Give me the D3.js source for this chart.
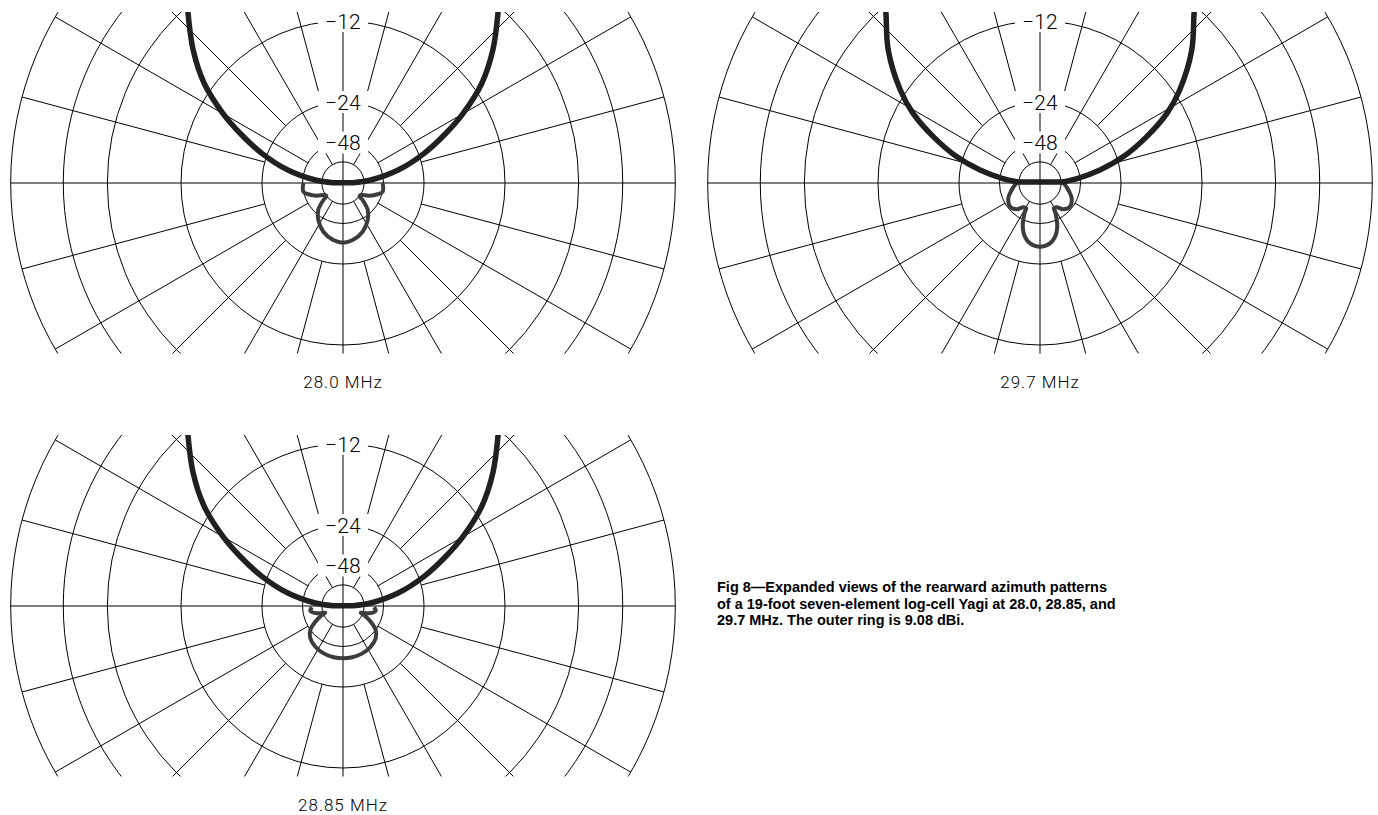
<!DOCTYPE html>
<html><head><meta charset="utf-8">
<script src="https://cdn.jsdelivr.net/npm/d3@7"></script>
<style>
html,body{margin:0;padding:0;background:#fff;}
svg{display:block;}
</style></head><body>
<svg id="chart" width="1378" height="815"></svg>
<script>
// ================= DATA =================
// Grid ring levels (dB) on the expanded reciprocal scale
const ringLevels = [-5.85, -6.95, -8.25, -12, -24, -48, -92];
const labeledLevels = [-12, -24, -48];
const ringLabels = ["\u221212", "\u221224", "\u221248"];
// spoke azimuths (degrees) grouped by the ring they start from
const spokesFromCenter = [0, 90, 180, 270];
const spokesFromInner = [30, 150, 210, 330];
const spokesFromMid = [60, 120, 240, 300];
const spokesFromOuter = [15, 45, 75, 105, 135, 165, 195, 225, 255, 285, 315, 345];

const panelTitles = ["28.0 MHz", "29.7 MHz", "28.85 MHz"];

// Main (forward) lobe: azimuth (deg) and level (dB)
const main280Az = [-88.3, -83.8, -76.75, -69.9, -64.2, -59.9, -54.3, -48.4, -42.4, -38, -30, -15, 0, 15, 30, 38, 42.4, 48.4, 54.3, 59.9, 64.2, 69.9, 76.75, 83.8, 88.3];
const main280Db = [-194, -69.8, -34.3, -22.5, -17.0, -14.0, -11.37, -9.70, -8.46, -7.65, -6.82, -6.27, -6.11, -6.27, -6.82, -7.65, -8.46, -9.70, -11.37, -14.0, -17.0, -22.5, -34.3, -69.8, -194];
const main297Az = [-87.4, -82.95, -77.8, -72.5, -66.5, -61.2, -56.4, -48.8, -42.5, -38, -30, -15, 0, 15, 30, 38, 42.5, 48.8, 56.4, 61.2, 66.5, 72.5, 77.8, 82.95, 87.4];
const main297Db = [-88.3, -50.8, -31.7, -22.3, -16.7, -13.4, -11.6, -9.64, -8.53, -7.7, -6.9, -6.35, -6.2, -6.35, -6.9, -7.7, -8.53, -9.64, -11.6, -13.4, -16.7, -22.3, -31.7, -50.8, -88.3];
const main2885Az = [-88.3, -83.8, -76.75, -69.9, -64.2, -59.9, -54.3, -48.4, -42.4, -38, -30, -15, 0, 15, 30, 38, 42.4, 48.4, 54.3, 59.9, 64.2, 69.9, 76.75, 83.8, 88.3];
const main2885Db = [-194, -69.8, -34.3, -22.5, -17.0, -14.0, -11.37, -9.70, -8.46, -7.65, -6.82, -6.27, -6.11, -6.27, -6.82, -7.65, -8.46, -9.70, -11.37, -14.0, -17.0, -22.5, -34.3, -69.8, -194];

// Rear lobes: azimuth (deg) and level (dB)
const rear280Az = [270, 257.6, 252, 244.2, 236.3, 231, 229, 222.5, 213.7, 202, 189.7, 180, 170.3, 158, 146.3, 137.5, 131, 129, 123.7, 115.8, 108, 102.4, 90];
const rear280Db = [-49.0, -47.9, -53.3, -66.6, -90, -91.3, -75, -53.1, -43.7, -37.0, -33.6, -32.6, -33.6, -37.0, -43.7, -53.1, -75, -91.3, -90, -66.6, -53.3, -47.9, -49.0];
const rear297Az = [269.3, 256.1, 244.2, 231.7, 221.5, 214.5, 209, 207.5, 201.6, 195.6, 189.4, 180, 170.6, 164.4, 158.4, 152.5, 151, 145.5, 138.5, 128.3, 115.8, 103.9, 90.7];
const rear297Db = [-81, -66.6, -55.2, -50.9, -55.4, -65.9, -68, -58.9, -41.4, -34.8, -31.8, -30.5, -31.8, -34.8, -41.4, -58.9, -68, -65.9, -55.4, -50.9, -55.2, -66.6, -81];
const rear2885Az = [267.6, 261.8, 254.3, 249.3, 246.8, 240.5, 233.7, 225.4, 214.2, 202.2, 190.3, 180, 169.7, 157.8, 145.8, 134.6, 126.3, 119.5, 113.2, 110.7, 105.7, 98.2, 92.4];
const rear2885Db = [-62.7, -58.9, -72, -102.9, -85.3, -61.1, -47.9, -42.3, -39.5, -38, -37.3, -37.2, -37.3, -38, -39.5, -42.3, -47.9, -61.1, -85.3, -102.9, -72, -58.9, -62.7];

const captionLines = [
  "Fig 8\u2014Expanded views of the rearward azimuth patterns",
  "of a 19-foot seven-element log-cell Yagi at 28.0, 28.85, and",
  "29.7 MHz. The outer ring is 9.08 dBi."
];

// ================= DRAW =================
const svg = d3.select("#chart");
const rScale = d3.scalePow().exponent(-1).domain([-12, -48]).range([162, 40.5]);
const outerLevel = d3.max(ringLevels);
const innerLevel = d3.min(ringLevels);

const panels = [
  {cx: 343, cy: 183, title: panelTitles[0], mAz: main280Az, mDb: main280Db, rAz: rear280Az, rDb: rear280Db},
  {cx: 1040, cy: 183, title: panelTitles[1], mAz: main297Az, mDb: main297Db, rAz: rear297Az, rDb: rear297Db},
  {cx: 343, cy: 606, title: panelTitles[2], mAz: main2885Az, mDb: main2885Db, rAz: rear2885Az, rDb: rear2885Db}
];

const rad = d => d * Math.PI / 180;
const radial = d3.lineRadial().angle(d => rad(d[0])).radius(d => rScale(d[1])).curve(d3.curveCatmullRom.alpha(0.5));

panels.forEach((p, i) => {
  const clipId = "clip" + i;
  svg.append("clipPath").attr("id", clipId)
    .append("rect").attr("x", p.cx - 345).attr("y", p.cy - 171).attr("width", 690).attr("height", 341.5);
  const grid = svg.append("g").attr("clip-path", `url(#${clipId})`)
    .append("g").attr("transform", `translate(${p.cx},${p.cy})`);

  grid.selectAll("circle.ring").data(ringLevels).enter().append("circle")
    .attr("r", d => rScale(d)).attr("fill", "none").attr("stroke", "#000").attr("stroke-width", 1);

  const spokes = [].concat(
    spokesFromCenter.map(a => [a, 0]),
    spokesFromInner.map(a => [a, rScale(innerLevel)]),
    spokesFromMid.map(a => [a, rScale(-48)]),
    spokesFromOuter.map(a => [a, rScale(-24)])
  );
  const R = rScale(outerLevel);
  grid.selectAll("line.spoke").data(spokes).enter().append("line")
    .attr("x1", d => d[1] * Math.sin(rad(d[0])))
    .attr("y1", d => -d[1] * Math.cos(rad(d[0])))
    .attr("x2", d => R * Math.sin(rad(d[0])))
    .attr("y2", d => -R * Math.cos(rad(d[0])))
    .attr("stroke", "#000").attr("stroke-width", 1);

  // ring labels with white knock-out boxes
  labeledLevels.forEach((lv, j) => {
    const y = -rScale(lv);
    grid.append("rect").attr("x", -25).attr("y", y - 11).attr("width", 50).attr("height", 22).attr("fill", "#fff");
    grid.append("text").attr("x", 0).attr("y", y).attr("dy", "0.36em")
      .attr("text-anchor", "middle")
      .style("font-family", "Roboto, 'DejaVu Sans', sans-serif").style("font-weight", 300)
      .style("font-size", "21px").attr("fill", "#000")
      .text(ringLabels[j]);
  });

  // patterns
  const mainPts = p.mAz.map((a, k) => [a, p.mDb[k]]);
  const rearPts = p.rAz.map((a, k) => [a, p.rDb[k]]);
  grid.append("path").attr("d", radial(rearPts)).attr("fill", "none")
    .attr("stroke", "#3c3c3c").attr("stroke-width", 4).attr("stroke-linejoin", "round");
  grid.append("path").attr("d", radial(mainPts) + "Z").attr("fill", "none")
    .attr("stroke", "#202020").attr("stroke-width", 5.5).attr("stroke-linejoin", "round");

  svg.append("text").attr("x", p.cx).attr("y", p.cy + 205).attr("text-anchor", "middle")
    .style("font-family", "Roboto, 'DejaVu Sans', sans-serif").style("font-weight", 300)
    .style("font-size", "17px").style("letter-spacing", "1px").attr("fill", "#000")
    .text(p.title);
});

const cap = svg.append("text").attr("x", 717).attr("y", 592)
  .style("font-family", "'Liberation Sans', Arial, sans-serif").style("font-weight", "bold")
  .style("font-size", "14.5px").attr("fill", "#000");
captionLines.forEach((t, k) => cap.append("tspan").attr("x", 717).attr("dy", k === 0 ? 0 : 16.5).text(t));
</script>
</body></html>
